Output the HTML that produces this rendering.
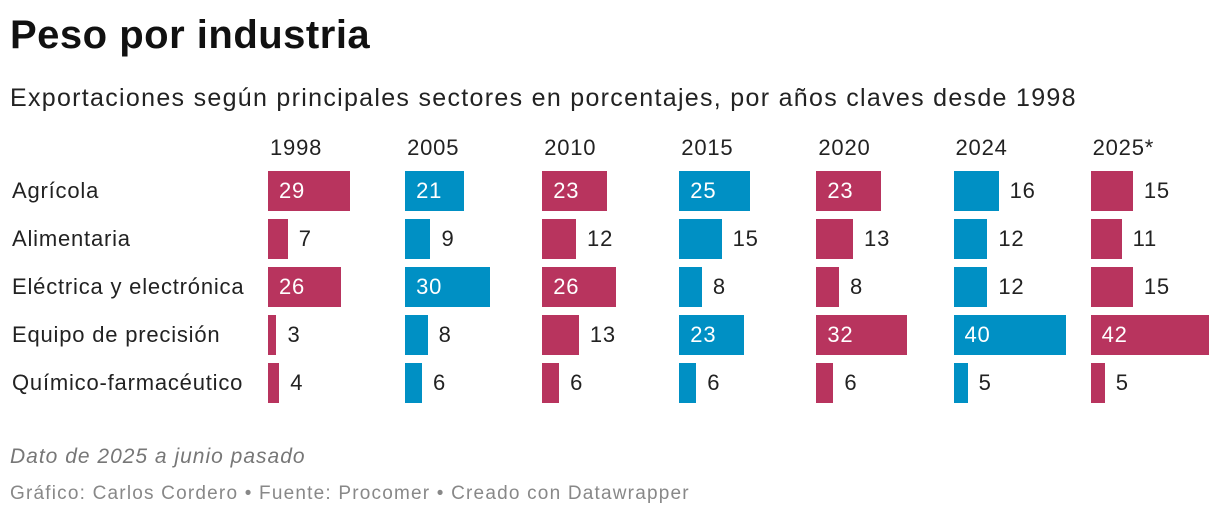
<!DOCTYPE html>
<html><head><meta charset="utf-8">
<style>
body{margin:0;background:#fff;width:1220px;height:518px;overflow:hidden;font-family:"Liberation Sans",Arial,sans-serif;position:relative}
.t{position:absolute;white-space:nowrap}
</style></head>
<body>
<div class="t" style="left:10px;top:13px;font-size:40px;font-weight:bold;color:#111;letter-spacing:0.5px">Peso por industria</div>
<div class="t" style="left:10px;top:84px;font-size:25px;color:#222;letter-spacing:1.3px">Exportaciones según principales sectores en porcentajes, por años claves desde 1998</div>
<div id="chart"></div>
<div class="t" style="left:10px;top:445px;font-size:21px;font-style:italic;color:#777;letter-spacing:1px">Dato de 2025 a junio pasado</div>
<div class="t" style="left:10px;top:483px;font-size:19px;color:#888;letter-spacing:1.2px">Gráfico: Carlos Cordero • Fuente: Procomer • Creado con Datawrapper</div>
<script>
const years=["1998","2005","2010","2015","2020","2024","2025*"];
const sectors=["Agrícola","Alimentaria","Eléctrica y electrónica","Equipo de precisión","Químico-farmacéutico"];
const v1998=[29,7,26,3,4];
const v2005=[21,9,30,8,6];
const v2010=[23,12,26,13,6];
const v2015=[25,15,8,23,6];
const v2020=[23,13,8,32,6];
const v2024=[16,12,12,40,5];
const v2025=[15,11,15,42,5];
const series=[v1998,v2005,v2010,v2015,v2020,v2024,v2025];
const colors=["#b8345e","#0090c4"];
const chart=document.getElementById('chart');
const colX=i=>268+i*137.1;
const rowY=j=>171+j*48;
const w=v=>v*2.82;
function mk(css,txt){const d=document.createElement('div');d.className='t';d.style.cssText=css;if(txt!==undefined)d.textContent=txt;chart.appendChild(d);return d;}
sectors.forEach((s,j)=>{
  const d=mk(`left:12px;top:${rowY(j)+7}px;font-size:22px;color:#222;letter-spacing:0.8px`,s);
  
  
});
years.forEach((y,i)=>{
  const h=mk(`left:${colX(i)+2}px;top:135px;font-size:22px;color:#222;letter-spacing:0.8px`,y);
  
  
  series[i].forEach((v,j)=>{
    const b=mk(`left:${colX(i)}px;top:${rowY(j)}px;width:${w(v)}px;height:40px;background:${colors[i%2]}`);
    
    
    const inside=v>=20;
    const l=mk(`left:${inside?colX(i)+11:colX(i)+w(v)+11}px;top:${rowY(j)+7}px;font-size:22px;letter-spacing:0.8px;color:${inside?'#fff':'#222'}`,String(v));
    
    
  });
});
</script>
</body></html>
